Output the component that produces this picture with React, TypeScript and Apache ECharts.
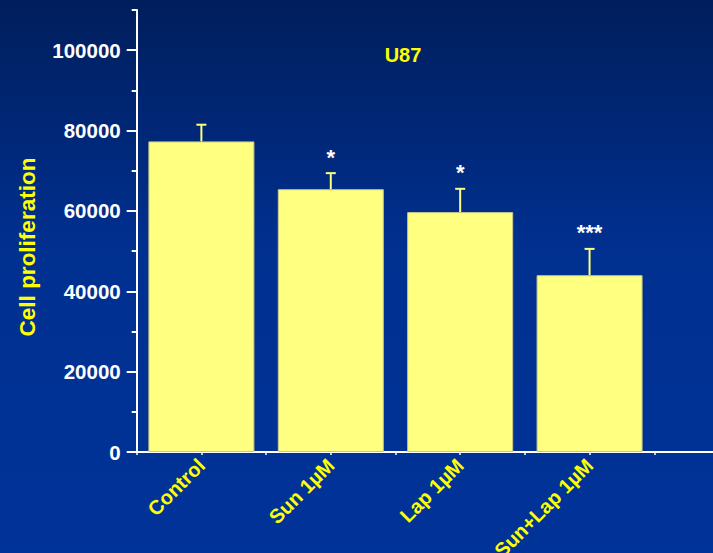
import { useEffect, useRef } from "react";
import * as echarts from "echarts";

// Cell proliferation of U87 cells after treatment (mean + SEM)
const categories = ["Control", "Sun 1µM", "Lap 1µM", "Sun+Lap 1µM"];
const means = [77300, 65400, 59700, 44000];
const sem = [4150, 4000, 5800, 6550];
const significance = ["", "*", "*", "***"];

const yMajorTicks = [0, 20000, 40000, 60000, 80000, 100000];
const yMinorTicks = [10000, 30000, 50000, 70000, 90000, 110000];
const yMax = 110000;

const titleText = "U87";
const yAxisTitle = "Cell proliferation";

const FONT = "'Liberation Sans', Arial, Helvetica, sans-serif";

// categories sit at 0.5, 1.5, ... on a continuous axis so ticks can mark
// both the group boundaries and the group centres
const xCenters = categories.map((_, i) => i + 0.5);
const xTicks = Array.from({ length: categories.length * 2 + 1 }, (_, k) => k / 2);

export default function App() {
  const ref = useRef<HTMLDivElement>(null);

  useEffect(() => {
    if (!ref.current) return;
    const chart = echarts.init(ref.current, null, { renderer: "svg" });

    const option = {
      animation: false,
      backgroundColor: new echarts.graphic.LinearGradient(0, 0, 0, 1, [
        { offset: 0, color: "#001e5c" },
        { offset: 0.45, color: "#003090" },
        { offset: 1, color: "#003399" },
      ]),
      grid: {
        left: 136.7,
        right: 0,
        top: 10,
        bottom: 101,
        containLabel: false,
        outerBoundsMode: "none",
      },
      graphic: [
        {
          type: "text",
          x: 403,
          y: 54.5,
          style: {
            text: titleText,
            fill: "#ffff00",
            fontSize: 20,
            fontWeight: "bold",
            fontFamily: FONT,
            align: "center",
            verticalAlign: "middle",
          },
        },
        {
          type: "text",
          x: 27,
          y: 247,
          rotation: Math.PI / 2,
          style: {
            text: yAxisTitle,
            fill: "#ffff00",
            fontSize: 22.5,
            fontWeight: "bold",
            fontFamily: FONT,
            align: "center",
            verticalAlign: "middle",
          },
        },
      ],
      xAxis: {
        type: "value",
        min: 0,
        max: 4.454,
        splitLine: { show: false },
        axisLine: { show: true, lineStyle: { color: "#ffffff", width: 2 } },
        axisTick: {
          show: true,
          customValues: xTicks,
          length: 3,
          lineStyle: { color: "#ffffff", width: 1.5 },
        },
        axisLabel: {
          show: true,
          customValues: xCenters,
          formatter: (v: number) => categories[Math.round(v - 0.5)] ?? "",
          rotate: 45,
          margin: 10,
          color: "#ffff00",
          fontSize: 20,
          fontWeight: "bold",
          fontFamily: FONT,
        },
      },
      yAxis: [
        {
          type: "value",
          min: 0,
          max: yMax,
          position: "left",
          splitLine: { show: false },
          axisLine: { show: true, lineStyle: { color: "#ffffff", width: 2 } },
          axisTick: {
            show: true,
            customValues: yMajorTicks,
            length: 10,
            lineStyle: { color: "#ffffff", width: 2 },
          },
          axisLabel: {
            show: true,
            customValues: yMajorTicks,
            formatter: (v: number) => String(v),
            margin: 16,
            color: "#ffffff",
            fontSize: 20.5,
            fontWeight: "bold",
            fontFamily: FONT,
          },
        },
        {
          type: "value",
          min: 0,
          max: yMax,
          position: "left",
          splitLine: { show: false },
          axisLine: { show: false },
          axisTick: {
            show: true,
            customValues: yMinorTicks,
            length: 5,
            lineStyle: { color: "#ffffff", width: 2 },
          },
          axisLabel: { show: false },
        },
      ],
      series: [
        {
          type: "bar",
          yAxisIndex: 0,
          barWidth: 106,
          data: xCenters.map((x, i) => [x, means[i]]),
          itemStyle: {
            color: "#ffff80",
            borderColor: "#c8c88a",
            borderWidth: 1,
          },
          z: 2,
        },
        {
          type: "custom",
          yAxisIndex: 0,
          z: 3,
          data: xCenters.map((x, i) => [x, means[i], sem[i], i]),
          renderItem: (_params: any, api: any) => {
            const x = api.value(0);
            const m = api.value(1);
            const e = api.value(2);
            const idx = api.value(3);
            const base = api.coord([x, m]);
            const top = api.coord([x, m + e]);
            const children: any[] = [
              {
                type: "line",
                shape: { x1: base[0], y1: base[1], x2: top[0], y2: top[1] },
                style: { stroke: "#ffff80", lineWidth: 2 },
              },
              {
                type: "line",
                shape: { x1: top[0] - 5, y1: top[1], x2: top[0] + 5, y2: top[1] },
                style: { stroke: "#ffff80", lineWidth: 2 },
              },
            ];
            const mark = significance[idx];
            if (mark) {
              children.push({
                type: "text",
                x: top[0],
                y: top[1] - 16,
                style: {
                  text: mark,
                  fill: "#ffffff",
                  fontSize: 22,
                  fontWeight: "bold",
                  fontFamily: FONT,
                  align: "center",
                  verticalAlign: "middle",
                },
              });
            }
            return { type: "group", children };
          },
        },
      ],
    };

    chart.setOption(option as any);
    return () => {
      chart.dispose();
    };
  }, []);

  return (
    <div
      ref={ref}
      style={{ position: "fixed", left: 0, top: 0, width: 713, height: 553 }}
    />
  );
}
